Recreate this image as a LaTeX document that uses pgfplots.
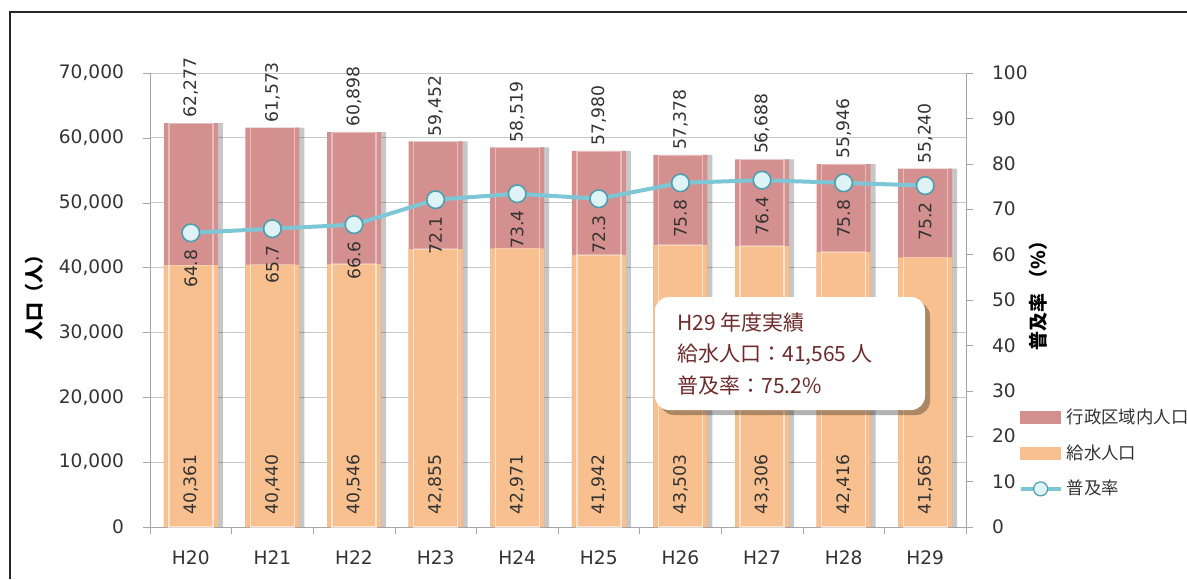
\documentclass[border=0pt]{standalone}
\usepackage{pgfplots}
\pgfplotsset{compat=1.18}
\usepackage{pgfplotstable}
\usepackage{fontspec}
\setmainfont{DejaVu Sans}
\newfontfamily\jp{Noto Sans CJK JP}

\definecolor{popred}{HTML}{D4908F}
\definecolor{served}{HTML}{F8C08F}
\definecolor{rateline}{HTML}{7DC6D6}
\definecolor{markfill}{HTML}{DDF3F6}
\definecolor{markdraw}{HTML}{4E9EB0}
\definecolor{txt}{HTML}{333333}
\definecolor{note}{HTML}{6E2B2B}
\definecolor{gridc}{HTML}{C8C8C8}
\definecolor{axisc}{HTML}{A6A6A6}

\pgfplotstableread{
x total served rate
0 62277 40361 64.8
1 61573 40440 65.7
2 60898 40546 66.6
3 59452 42855 72.1
4 58519 42971 73.4
5 57980 41942 72.3
6 57378 43503 75.8
7 56688 43306 76.4
8 55946 42416 75.8
9 55240 41565 75.2
}\data

\pgfplotsset{
  /pgf/number format/assume math mode=true,
  common/.style={
    at={(75pt,26pt)}, anchor=south west,
    scale only axis, width=408pt, height=227pt,
    xmin=-0.5, xmax=9.5, ymin=0,
    tick align=outside, major tick length=3.5pt, minor tick length=3.5pt,
    axis line style={axisc}, tick style={axisc},
    ticklabel style={font=\fontsize{9.3}{11}\selectfont, text=txt},
    clip=false,
  },
}

\begin{document}
\begin{tikzpicture}
\useasboundingbox (0,0) rectangle (593.5pt,289.5pt);

\begin{axis}[common,
  ymax=70000,
  axis y line*=left, axis x line*=bottom,
  xtick={0,...,9}, xticklabels={H20,H21,H22,H23,H24,H25,H26,H27,H28,H29},
  major x tick style={draw=none},
  minor xtick={-0.5,0.5,...,9.5},
  ytick={0,10000,...,70000},
  ymajorgrids, grid style={gridc},
  scaled y ticks=false,
  yticklabel style={/pgf/number format/1000 sep={,}, xshift=-6pt},
  xticklabel style={yshift=-5pt},
  ybar, bar width=27pt, bar shift=0pt,
]
% shadow
\addplot[fill=black, fill opacity=0.22, draw=none, bar shift=2.5pt] table[x=x,y=total]{\data};
\addplot[fill=popred, draw=none,
  nodes near coords={\pgfmathprintnumber[1000 sep={,}]{\pgfplotspointmeta}},
  point meta=\thisrow{total},
  every node near coord/.append style={rotate=90, anchor=west, inner xsep=2.5pt,
    font=\fontsize{8.6}{10}\selectfont, text=txt}]
  table[x=x,y=total]{\data};
\addplot[fill=served, draw=none] table[x=x,y=served]{\data};
% glossy inner highlights
\addplot[draw=white, draw opacity=0.4, fill=none, line width=0.7pt, bar width=22pt] table[x=x,y=total]{\data};
\addplot[draw=white, draw opacity=0.3, fill=none, line width=0.7pt, bar width=22pt] table[x=x,y=served]{\data};
\addplot[draw=none, fill=none,
  nodes near coords={\pgfmathprintnumber[1000 sep={,}]{\pgfplotspointmeta}},
  point meta=\thisrow{served},
  every node near coord/.append style={rotate=90, anchor=west, inner xsep=6pt,
    font=\fontsize{8.6}{10}\selectfont, text=txt}]
  table[x=x,y expr=0]{\data};
\end{axis}

\begin{axis}[common,
  ymax=100,
  axis y line*=right, axis x line=none,
  ytick={0,10,...,100},
  yticklabel style={xshift=6pt},
  legend style={at={(1.064,0.27)}, anchor=north west, draw=none, fill=none,
    inner sep=0pt, row sep=5pt,
    font=\jp\fontsize{8.7}{10}\selectfont, text=txt},
  legend cell align=left,
]
\addlegendimage{legend image code/.code={\fill[popred] (0pt,-3pt) rectangle (20pt,3pt);}}
\addlegendentry{行政区域内人口}
\addlegendimage{legend image code/.code={\fill[served] (0pt,-3pt) rectangle (20pt,3pt);}}
\addlegendentry{給水人口}
\addplot[rateline, line width=2pt, mark=*, mark size=4.4pt,
  mark options={fill=markfill, draw=markdraw, line width=0.8pt},
  nodes near coords={\pgfmathprintnumber[fixed, precision=1]{\pgfplotspointmeta}},
  point meta=\thisrow{rate},
  every node near coord/.append style={rotate=90, anchor=east, inner xsep=8pt,
    font=\fontsize{8.6}{10}\selectfont, text=txt},
  legend image code/.code={
    \draw[rateline, line width=2pt] (0pt,0pt) -- (20pt,0pt);
    \draw[markdraw, fill=markfill, line width=0.6pt] (10pt,0pt) circle (3.5pt);}]
  table[x=x,y=rate]{\data};
\addlegendentry{普及率}
\end{axis}

% note box
\fill[black, opacity=0.3, rounded corners=7pt] (330pt,82pt) rectangle (465pt,138.5pt);
\fill[white, rounded corners=7pt] (327.5pt,84.5pt) rectangle (462.5pt,141pt);
\begin{scope}[every node/.style={anchor=west, text=note, inner sep=0pt,
    font=\jp\fontsize{10.5}{12}\selectfont}]
\node at (338.5pt,128pt) {H29 年度実績};
\node at (338.5pt,112pt) {給水人口：41,565 人};
\node at (338.5pt,96.5pt) {普及率：75.2\%};
\end{scope}

% axis titles
\node[rotate=90, font=\jp\bfseries\fontsize{9.5}{10}\selectfont] at (17pt,143pt) {人口（人）};
\node[rotate=90, font=\jp\bfseries\fontsize{9.5}{10}\selectfont] at (519pt,144pt) {普及率 （\%）};

% frame
\draw[line width=1pt, black!85] (593.5pt,283.5pt) -- (5pt,283.5pt) -- (5pt,0pt);
\end{tikzpicture}
\end{document}
